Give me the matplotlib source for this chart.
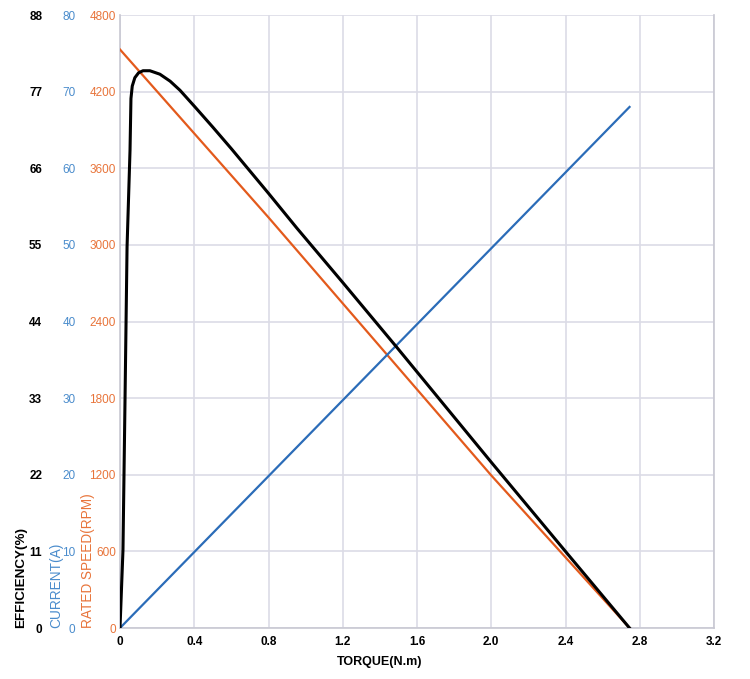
import matplotlib.pyplot as plt
import numpy as np

# Torque (N.m) axis
torque_ticks = [0, 0.4, 0.8, 1.2, 1.6, 2.0, 2.4, 2.8, 3.2]

# Efficiency curve
eff_torque = [0, 0.016, 0.027, 0.038, 0.054, 0.059, 0.066, 0.080, 0.100, 0.124,
              0.161, 0.215, 0.270, 0.323, 0.404, 0.500, 0.600, 0.700, 0.800,
              0.953, 1.200, 1.491, 2.000, 2.406, 2.745]
efficiency = [0, 11.2, 32.7, 54.7, 68.6, 76.0, 77.8, 79.0, 79.7, 80.0,
              80.0, 79.5, 78.5, 77.2, 74.8, 71.9, 68.8, 65.6, 62.4,
              57.4, 49.6, 40.3, 23.8, 10.8, 0]

# Speed and current (near straight lines)
speed_torque = [0, 0.8, 2.0, 2.745]
speed = [4530, 3215, 1195, 0]
cur_torque = [0, 2.745]
current = [0, 68.0]

eff_ticks = [0, 11, 22, 33, 44, 55, 66, 77, 88]
cur_ticks = [0, 10, 20, 30, 40, 50, 60, 70, 80]
spd_ticks = [0, 600, 1200, 1800, 2400, 3000, 3600, 4200, 4800]

ORANGE = "#e35a1c"
ORANGE_TXT = "#e8743a"
BLUE = "#2b6cb8"
BLUE_TXT = "#4a8ccc"
GRID = "#dcdce6"

plt.rcParams["font.family"] = ["Liberation Sans", "DejaVu Sans"]

fig = plt.figure(figsize=(7.5, 6.79), dpi=100)
ax = fig.add_axes([0.16, 0.0751, 0.792, 0.9028])

# speed axis (main)
ax.set_xlim(0, 3.2)
ax.set_ylim(0, 4800)
ax.set_xticks(torque_ticks)
ax.set_xticklabels([str(t) if t != 0 else "0" for t in torque_ticks],
                   fontweight="bold", fontsize=8.5)
ax.set_yticks(spd_ticks)
ax.set_yticklabels([str(v) for v in spd_ticks], color=ORANGE_TXT, fontsize=8.5)
ax.tick_params(axis="both", length=0)
ax.tick_params(axis="y", pad=3)
ax.tick_params(axis="x", pad=6)
ax.grid(True, color=GRID, linewidth=1.2)
ax.set_axisbelow(True)
for s in ax.spines.values():
    s.set_color("#c8c8d2")
    s.set_linewidth(1.2)
ax.spines["top"].set_visible(False)

ax.plot(speed_torque, speed, color=ORANGE, linewidth=1.6, zorder=3)

# current axis
ax2 = ax.twinx()
ax2.set_ylim(0, 80)
ax2.set_yticks(cur_ticks)
ax2.set_yticklabels([str(v) for v in cur_ticks], color=BLUE_TXT, fontsize=8.5)
ax2.yaxis.set_ticks_position("left")
ax2.tick_params(axis="y", length=0, pad=32)
for s in ax2.spines.values():
    s.set_visible(False)
ax2.plot(cur_torque, current, color=BLUE, linewidth=1.6, zorder=3)

# efficiency axis
ax3 = ax.twinx()
ax3.set_ylim(0, 88)
ax3.set_yticks(eff_ticks)
ax3.set_yticklabels([str(v) for v in eff_ticks], color="black",
                    fontsize=8.5, fontweight="bold")
ax3.yaxis.set_ticks_position("left")
ax3.tick_params(axis="y", length=0, pad=56)
for s in ax3.spines.values():
    s.set_visible(False)
ax3.plot(eff_torque, efficiency, color="black", linewidth=2.2, zorder=4,
         solid_joinstyle="round")

# axis titles
fig.text(21 / 750, 1 - 628 / 679, "EFFICIENCY(%)", rotation=90, ha="center",
         va="bottom", fontsize=9.7, fontweight="bold", color="black")
fig.text(56 / 750, 1 - 628 / 679, "CURRENT(A)", rotation=90, ha="center",
         va="bottom", fontsize=9.9, color=BLUE_TXT)
fig.text(88 / 750, 1 - 628 / 679, "RATED SPEED(RPM)", rotation=90, ha="center",
         va="bottom", fontsize=9.8, color=ORANGE_TXT)
fig.text(380 / 750, 1 - 662 / 679, "TORQUE(N.m)", ha="center", va="center",
         fontsize=9, fontweight="bold")

fig.savefig("out.png", dpi=100)
